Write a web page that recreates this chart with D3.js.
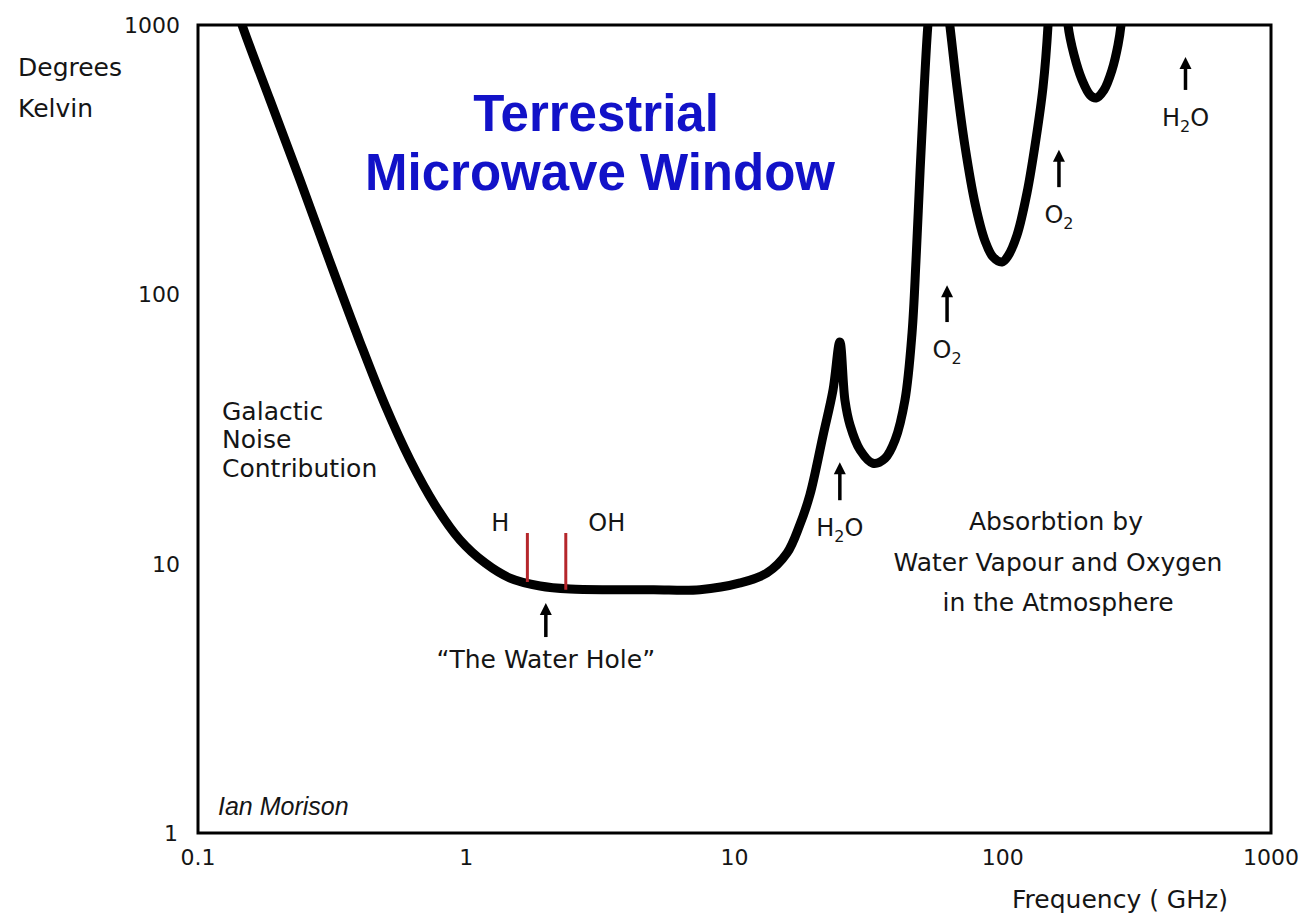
<!doctype html>
<html>
<head>
<meta charset="utf-8">
<title>Terrestrial Microwave Window</title>
<script src="https://cdn.jsdelivr.net/npm/d3@7"></script>
<style>
  body { margin: 0; background: #fff; }
  text { font-family: "DejaVu Sans", sans-serif; fill: #151515; }
  .curve { fill: none; stroke: #000; stroke-width: 9px; }
</style>
</head>
<body>
<div id="chart"></div>
<script>
// sky temperature curve (GHz, Kelvin)
var freq = [0.14, 0.146, 0.1855, 0.240, 0.3105, 0.4017, 0.498, 0.617, 0.765, 0.948, 1.175, 1.456, 1.884, 2.436, 3.5, 5.0, 7.43,
  10.5, 13.2, 15.7, 17.5, 19.1, 21.4, 23.3, 24.7, 25.8, 26.96, 29.4, 32.8, 36.4, 39.7, 43.2, 45.9, 47.5, 49.2, 50.9, 52.6, 53.6,
  57, 62.0, 63.6, 67.5, 72.3, 78.8, 85.9, 92.0, 99.4, 104.6, 113.0, 123.1, 133.0, 141.3, 147.5, 148.5,
  160, 174, 175.1, 184.4, 197.5, 211.5, 222.7, 238.5, 255.5, 269, 276, 280];
var temp = [1150, 1000, 527, 266, 131.8, 66.5, 38.8, 24.3, 16.5, 12.24, 10.06, 8.84, 8.26, 8.05, 8.0, 8.0, 8.0,
  8.48, 9.23, 10.95, 13.9, 18.0, 30.0, 44.2, 66.5, 40.5, 32.7, 26.4, 23.6, 24.6, 28.8, 40.5, 71.8, 134, 289, 574, 1000, 1200,
  5000, 1200, 983, 588, 355, 218, 157.8, 137.6, 131.8, 138.8, 166, 237.8, 377, 588, 1000, 1200,
  5000, 1200, 1000, 774, 625, 550, 536, 574, 681, 843, 1000, 1200];

var xTicks = [0.1, 1, 10, 100, 1000];
var yTicks = [1, 10, 100, 1000];
var xTickLabels = ["0.1", "1", "10", "100", "1000"];
var yTickLabels = ["1", "10", "100", "1000"];

// hydrogen and hydroxyl lines in the water hole
var lineNames = ["H", "OH"];
var lineFreq = [1.69, 2.35];
var lineTop = [13.0, 13.0];
var lineBottom = [8.55, 8.0];

// arrows: frequency, tail and head temperature, label parts
var arrowFreq = [1.98, 24.7, 62.0, 162, 480];
var arrowBottom = [5.34, 17.2, 78.9, 250, 574];
var arrowTop = [7.14, 23.8, 108, 344, 760];
var arrowPre = ["\u201CThe Water Hole\u201D", "H", "O", "O", "H"];
var arrowSub = ["", "2", "2", "2", "2"];
var arrowPost = ["", "O", "", "", "O"];

var margin = {top: 25, right: 29, bottom: 85, left: 198},
    width = 1300 - margin.left - margin.right,
    height = 918 - margin.top - margin.bottom;

var svg = d3.select("#chart").append("svg")
    .attr("width", 1300)
    .attr("height", 918);

var g = svg.append("g")
    .attr("transform", "translate(" + margin.left + "," + margin.top + ")");

var x = d3.scaleLog().domain([0.1, 1000]).range([0, width]);
var y = d3.scaleLog().domain([1, 1000]).range([height, 0]);

g.append("clipPath").attr("id", "clip")
  .append("rect").attr("width", width).attr("height", height);

var data = freq.map(function(f, i) { return {f: f, t: temp[i]}; });

var line = d3.line()
    .curve(d3.curveCatmullRom.alpha(0.5))
    .x(function(d) { return x(d.f); })
    .y(function(d) { return y(d.t); });

g.append("path")
    .datum(data)
    .attr("class", "curve")
    .attr("clip-path", "url(#clip)")
    .attr("d", line);

// red lines for H and OH
g.selectAll(".specline")
  .data(lineFreq)
  .enter().append("line")
    .attr("class", "specline")
    .attr("x1", function(d) { return x(d); })
    .attr("x2", function(d) { return x(d); })
    .attr("y1", function(d, i) { return y(lineTop[i]); })
    .attr("y2", function(d, i) { return y(lineBottom[i]); })
    .attr("stroke", "#b5262b")
    .attr("stroke-width", 3);

// frame
g.append("rect")
    .attr("width", width)
    .attr("height", height)
    .attr("fill", "none")
    .attr("stroke", "#000")
    .attr("stroke-width", 3);

// tick labels (no tick marks in the original)
g.selectAll(".xlab")
  .data(xTicks)
  .enter().append("text")
    .attr("x", function(d) { return x(d); })
    .attr("y", height + 32)
    .attr("text-anchor", "middle")
    .style("font-size", "22px")
    .text(function(d, i) { return xTickLabels[i]; });

g.selectAll(".ylab")
  .data(yTicks)
  .enter().append("text")
    .attr("x", function(d) { return d == 1 ? -20 : -18; })
    .attr("y", function(d) { return y(d) + 8; })
    .attr("text-anchor", "end")
    .style("font-size", "22px")
    .text(function(d, i) { return yTickLabels[i]; });

// axis titles
svg.append("text").attr("x", 18).attr("y", 76).style("font-size", "25px").text("Degrees");
svg.append("text").attr("x", 18).attr("y", 117).style("font-size", "25px").text("Kelvin");
svg.append("text").attr("x", 1120).attr("y", 908).attr("text-anchor", "middle")
    .style("font-size", "25px").text("Frequency ( GHz)");

// title
var title = svg.append("g").attr("text-anchor", "middle");
title.append("text").attr("x", 596).attr("y", 131)
    .style("font-family", "'Liberation Sans', Arial, sans-serif")
    .style("font-weight", "bold").style("font-size", "51px").style("fill", "#1212c8")
    .text("Terrestrial");
title.append("text").attr("x", 600).attr("y", 190)
    .style("font-family", "'Liberation Sans', Arial, sans-serif")
    .style("font-weight", "bold").style("font-size", "51px").style("fill", "#1212c8")
    .text("Microwave Window");

// notes
svg.append("text").attr("x", 222).attr("y", 420).style("font-size", "25px").text("Galactic");
svg.append("text").attr("x", 222).attr("y", 448).style("font-size", "25px").text("Noise");
svg.append("text").attr("x", 222).attr("y", 477).style("font-size", "25px").text("Contribution");

svg.append("text").attr("x", 1056).attr("y", 530).attr("text-anchor", "middle").style("font-size", "25px").text("Absorbtion by");
svg.append("text").attr("x", 1058).attr("y", 571).attr("text-anchor", "middle").style("font-size", "25px").text("Water Vapour and Oxygen");
svg.append("text").attr("x", 1058).attr("y", 611).attr("text-anchor", "middle").style("font-size", "25px").text("in the Atmosphere");

svg.append("text").attr("x", 218).attr("y", 815)
    .style("font-family", "'Liberation Sans', Arial, sans-serif")
    .style("font-style", "italic").style("font-size", "25px")
    .text("Ian Morison");

// H / OH labels
g.selectAll(".linename")
  .data(lineNames)
  .enter().append("text")
    .attr("x", function(d, i) { return x(lineFreq[i]) + (i == 0 ? -27 : 41); })
    .attr("y", y(13.0) - 2)
    .attr("text-anchor", "middle")
    .style("font-size", "24px")
    .text(function(d) { return d; });

// arrows
var arrows = g.selectAll(".arrow")
  .data(arrowFreq)
  .enter().append("g")
    .attr("class", "arrow")
    .attr("transform", function(d) { return "translate(" + x(d) + ",0)"; });

arrows.append("line")
    .attr("y1", function(d, i) { return y(arrowBottom[i]); })
    .attr("y2", function(d, i) { return y(arrowTop[i]) + 8; })
    .attr("stroke", "#000")
    .attr("stroke-width", 3.5);

arrows.append("path")
    .attr("d", function(d, i) {
      var t = y(arrowTop[i]);
      return "M0," + t + "L-6," + (t + 12) + "L6," + (t + 12) + "Z";
    })
    .attr("fill", "#000");

var labels = arrows.append("text")
    .attr("y", function(d, i) { return y(arrowBottom[i]) + (i == 0 ? 31 : 36); })
    .attr("text-anchor", "middle")
    .style("font-size", function(d, i) { return i == 0 ? "25px" : "24px"; });

labels.append("tspan").text(function(d, i) { return arrowPre[i]; });
labels.append("tspan")
    .attr("dy", 6)
    .style("font-size", "16px")
    .text(function(d, i) { return arrowSub[i]; });
labels.append("tspan")
    .attr("dy", -6)
    .text(function(d, i) { return arrowPost[i]; });
</script>
</body>
</html>
